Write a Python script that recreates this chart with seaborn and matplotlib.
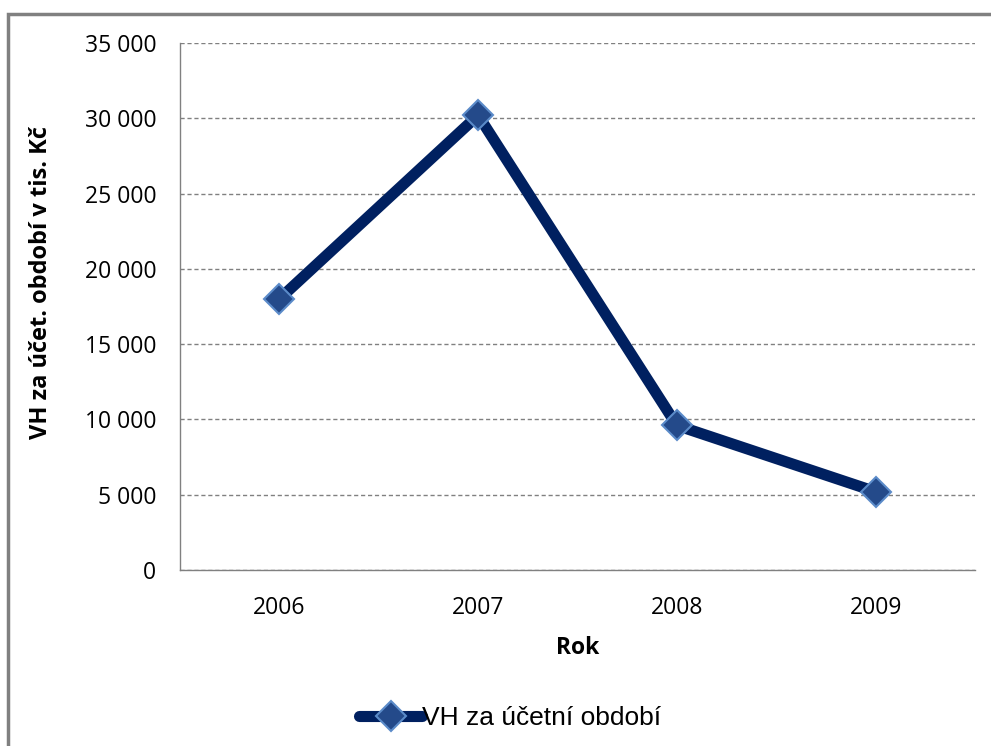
import matplotlib
matplotlib.use("Agg")
import matplotlib.pyplot as plt
from matplotlib.patches import Rectangle
from matplotlib.ticker import FuncFormatter
import seaborn as sns
import pandas as pd

years = ["2006", "2007", "2008", "2009"]
values = [18000, 30200, 9600, 5200]
series_name = "VH za účetní období"
y_ticks = [0, 5000, 10000, 15000, 20000, 25000, 30000, 35000]

df = pd.DataFrame({"Rok": years, "VH": values})

sns.set_theme(style="white")
plt.rcParams["font.family"] = ["Open Sans", "DejaVu Sans"]
plt.rcParams["text.color"] = "black"
plt.rcParams["axes.labelcolor"] = "black"

fig = plt.figure(figsize=(9.91, 7.46), dpi=100)
ax = fig.add_axes([0.1816, 0.2359, 0.8023, 0.7065])

sns.lineplot(data=df, x="Rok", y="VH", ax=ax, color="#002060", linewidth=8,
             marker="D", markersize=15, markerfacecolor="#244A8A",
             markeredgecolor="#5B8BC9", markeredgewidth=1.5,
             label=series_name, sort=False)

ax.set_xlim(-0.5, 3.5)
ax.set_ylim(0, 35000)
ax.set_yticks(y_ticks)
ax.yaxis.set_major_formatter(FuncFormatter(lambda v, p: f"{int(v):,}".replace(",", " ")))
ax.grid(axis="y", color="#808080", linestyle=(0, (3, 2)), linewidth=1)
ax.set_axisbelow(True)
for s in ["top", "right"]:
    ax.spines[s].set_visible(False)
for s in ["left", "bottom"]:
    ax.spines[s].set_color("#808080")
    ax.spines[s].set_linewidth(1)
ax.tick_params(axis="both", length=0, labelsize=16.5, colors="black")
ax.tick_params(axis="y", pad=17)
ax.tick_params(axis="x", pad=19)

ax.set_xlabel("Rok", fontsize=16.5, fontweight="bold", labelpad=11, color="black")
ax.set_ylabel("VH za účet. období v tis. Kč", fontsize=17, fontweight="bold", color="black")
ax.yaxis.set_label_coords(-0.16, 0.545)

leg = ax.legend(loc="center", bbox_to_anchor=(0.515, 0.0375), bbox_transform=fig.transFigure,
                frameon=False, prop={"family": "Liberation Sans", "size": 19},
                handlelength=2.4, handletextpad=0.0)
for t in leg.get_texts():
    t.set_color("black")

fig.patches.append(Rectangle((8 / 991, -0.05), 1.2, (746 - 14) / 746 + 0.05,
                             transform=fig.transFigure, fill=False,
                             edgecolor="#808080", linewidth=2.5, zorder=0))

fig.savefig("out.png", dpi=100)
